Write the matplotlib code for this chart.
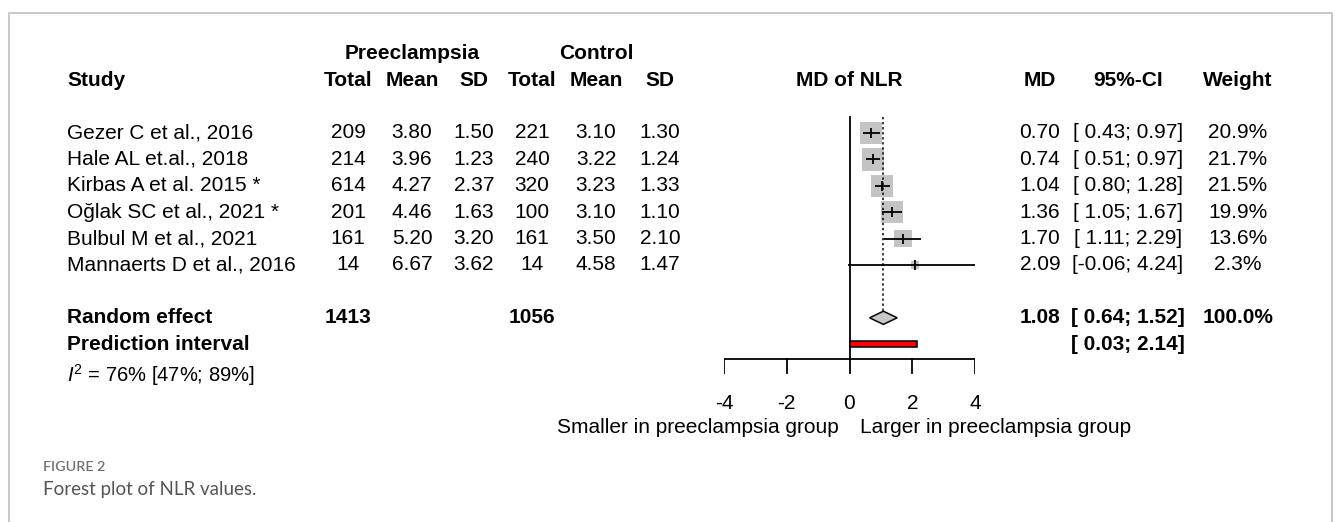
import numpy as np
import matplotlib
matplotlib.use("Agg")
import matplotlib.pyplot as plt
from matplotlib.patches import Polygon, Rectangle

# data
studies = ["Gezer C et al., 2016", "Hale AL et.al., 2018", "Kirbas A et al. 2015 *",
           "Oğlak SC et al., 2021 *", "Bulbul M et al., 2021", "Mannaerts D et al., 2016"]
pe_total = [209, 214, 614, 201, 161, 14]
pe_mean = [3.80, 3.96, 4.27, 4.46, 5.20, 6.67]
pe_sd = [1.50, 1.23, 2.37, 1.63, 3.20, 3.62]
ct_total = [221, 240, 320, 100, 161, 14]
ct_mean = [3.10, 3.22, 3.23, 3.10, 3.50, 4.58]
ct_sd = [1.30, 1.24, 1.33, 1.10, 2.10, 1.47]
md = [0.70, 0.74, 1.04, 1.36, 1.70, 2.09]
ci_lo = [0.43, 0.51, 0.80, 1.05, 1.11, -0.06]
ci_hi = [0.97, 0.97, 1.28, 1.67, 2.29, 4.24]
weight = [20.9, 21.7, 21.5, 19.9, 13.6, 2.3]

re_md, re_lo, re_hi = 1.08, 0.64, 1.52
pi_lo, pi_hi = 0.03, 2.14
sum_pe, sum_ct = 1413, 1056
i2, i2_lo, i2_hi = 76, 47, 89
xticks = [-4, -2, 0, 2, 4]

plt.rcParams['font.family'] = ['Liberation Sans', 'DejaVu Sans']
plt.rcParams['mathtext.fontset'] = 'custom'
plt.rcParams['mathtext.rm'] = 'Liberation Sans'
plt.rcParams['mathtext.it'] = 'Liberation Sans:italic'

W, H = 1335, 522
fig = plt.figure(figsize=(W / 100, H / 100), dpi=100)

# background axes in pixel units for the table text
bg = fig.add_axes([0, 0, 1, 1])
bg.set_xlim(0, W)
bg.set_ylim(H, 0)
bg.axis('off')

def row(i):
    return 133 + 26.4 * i

fs = 15
# frame
bg.plot([9, 9, 1332, 1332], [H, 12.5, 12.5, H], color='#c4c4c4', lw=1.3)

# column centres (px)
c_pt, c_pm, c_ps = 348, 412, 474
c_ct, c_cm, c_cs = 532, 596, 660
c_md, c_ci, c_w = 1040, 1128, 1238

def t(x, y, s, ha='center', weight='normal', size=fs, **kw):
    bg.text(x, y, s, ha=ha, va='center', fontsize=size, fontweight=weight, **kw)

B = 'bold'
# headers
t(412, row(-3), "Preeclampsia", weight=B)
t(596, row(-3), "Control", weight=B)
t(67, row(-2), "Study", ha='left', weight=B)
for x, s in [(c_pt, "Total"), (c_pm, "Mean"), (c_ps, "SD"), (c_ct, "Total"),
             (c_cm, "Mean"), (c_cs, "SD"), (849, "MD of NLR"), (c_md, "MD"),
             (c_ci, "95%-CI"), (c_w, "Weight")]:
    t(x, row(-2), s, weight=B)

for i, s in enumerate(studies):
    y = row(i)
    t(67, y, s, ha='left')
    t(c_pt, y, f"{pe_total[i]}")
    t(c_pm, y, f"{pe_mean[i]:.2f}")
    t(c_ps, y, f"{pe_sd[i]:.2f}")
    t(c_ct, y, f"{ct_total[i]}")
    t(c_cm, y, f"{ct_mean[i]:.2f}")
    t(c_cs, y, f"{ct_sd[i]:.2f}")
    t(c_md, y, f"{md[i]:.2f}")
    lo = f"{ci_lo[i]:.2f}" if ci_lo[i] < 0 else f" {ci_lo[i]:.2f}"
    t(c_ci, y, f"[{lo}; {ci_hi[i]:.2f}]")
    t(c_w, y, f"{weight[i]:.1f}%")

y = row(7)
t(67, y, "Random effect", ha='left', weight=B)
t(c_pt, y, f"{sum_pe}", weight=B)
t(c_ct, y, f"{sum_ct}", weight=B)
t(c_md, y, f"{re_md:.2f}", weight=B)
t(c_ci, y, f"[ {re_lo:.2f}; {re_hi:.2f}]", weight=B)
t(c_w, y, "100.0%", weight=B)
y = row(8)
t(67, y, "Prediction interval", ha='left', weight=B)
t(c_ci, y, f"[ {pi_lo:.2f}; {pi_hi:.2f}]", weight=B)
t(67, row(9.15), rf"$\mathit{{I}}^2$ = {i2}% [{i2_lo}%; {i2_hi}%]", ha='left', size=14.5)

# caption
t(43, 467, "FIGURE 2", ha='left', size=10.3, color='#707070',
  family=['Lato', 'DejaVu Sans'], weight='semibold')
t(43, 490, "Forest plot of NLR values.", ha='left', size=13.5, color='#555555',
  family=['Lato', 'DejaVu Sans'])

# forest axes: -4..4 -> px 724..975, rows -2..11.2
x0, x1 = 724, 975
r0, r1 = -2, 11.2
ax = fig.add_axes([x0 / W, 1 - row(r1) / H, (x1 - x0) / W, (row(r1) - row(r0)) / H])
ax.set_xlim(-4, 4)
ax.set_ylim(r1, r0)
ax.axis('off')

ypos = np.arange(len(studies))
sides = 4.8 * np.sqrt(weight)
ax.scatter(md, ypos, s=(sides * 0.72) ** 2, marker='s', color='#c4c4c4', lw=0, zorder=2)
ax.hlines(ypos, ci_lo, ci_hi, color='black', lw=1.3, zorder=3)
ax.scatter(md, ypos, s=42, marker='|', color='black', lw=1.3, zorder=3)

# null line, summary line
ax.plot([0, 0], [-0.6, 8.55], color='black', lw=1.3)
ax.plot([re_md, re_md], [-0.6, 6.75], color='black', lw=1.1, ls=(0, (1.5, 1.8)))

# diamond
dh = 0.25
ax.add_patch(Polygon([[re_lo, 7], [re_md, 7 - dh], [re_hi, 7], [re_md, 7 + dh]],
                     closed=True, facecolor='#c8c8c8', edgecolor='black', lw=1.1, zorder=3))
# prediction interval
ax.add_patch(Rectangle((pi_lo, 8 - 0.11), pi_hi - pi_lo, 0.22, facecolor='red',
                       edgecolor='black', lw=1.1, zorder=3))

# x axis
ya = 8.55
ax.plot([-4, 4], [ya, ya], color='black', lw=1.3)
for tk in xticks:
    ax.plot([tk, tk], [ya, ya + 0.55], color='black', lw=1.3)
    ax.text(tk, 10.23, f"{tk}", ha='center', va='center', fontsize=fs)
ax.text(-0.35, 11.15, "Smaller in preeclampsia group", ha='right', va='center', fontsize=fs)
ax.text(0.35, 11.15, "Larger in preeclampsia group", ha='left', va='center', fontsize=fs)

fig.savefig("out.png", dpi=100)
